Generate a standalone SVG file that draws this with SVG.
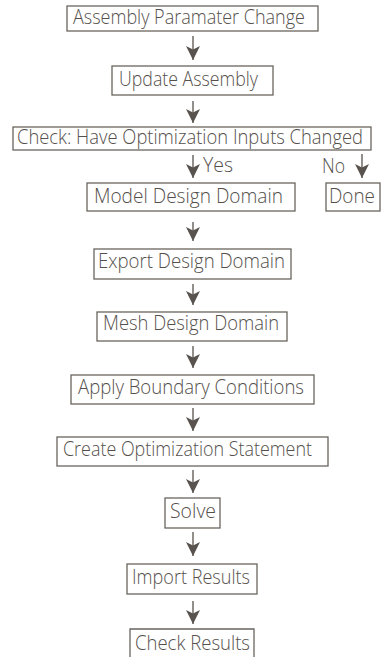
<svg xmlns="http://www.w3.org/2000/svg" width="383" height="657" viewBox="0 0 383 657">
  <style>
    .box { fill: #ffffff; stroke: #6a655f; stroke-width: 1.3; }
    .lbl { font-family: "Open Sans", "Noto Sans", sans-serif; font-weight: 300; font-size: 19.5px; fill: #55504c; }
    .edge { stroke: #58534e; stroke-width: 1.3; fill: none; marker-end: url(#head); }
  </style>
  <defs>
    <marker id="head" viewBox="0 0 14 14" refX="14" refY="7" markerWidth="14" markerHeight="14" markerUnits="userSpaceOnUse" orient="auto">
      <path d="M0,0 L14,7 L0,14 L3.5,7 Z" fill="#58534e"/>
    </marker>
  </defs>
  <rect width="383" height="657" fill="#ffffff"/>

  <g id="n-assembly-change">
    <rect class="box" x="67" y="6" width="251" height="25"/>
    <text class="lbl" x="73" y="24" textLength="232" lengthAdjust="spacingAndGlyphs">Assembly Paramater Change</text>
  </g>
  <g id="n-update-assembly">
    <rect class="box" x="112" y="66" width="161" height="29"/>
    <text class="lbl" x="119" y="86" textLength="139" lengthAdjust="spacingAndGlyphs">Update Assembly</text>
  </g>
  <g id="n-check-inputs">
    <rect class="box" x="13" y="127" width="358" height="23"/>
    <text class="lbl" x="17" y="144" textLength="346" lengthAdjust="spacingAndGlyphs">Check: Have Optimization Inputs Changed</text>
  </g>
  <g id="n-model">
    <rect class="box" x="87" y="183" width="208" height="28"/>
    <text class="lbl" x="94" y="203" textLength="189" lengthAdjust="spacingAndGlyphs">Model Design Domain</text>
  </g>
  <g id="n-done">
    <rect class="box" x="326" y="183" width="54" height="28"/>
    <text class="lbl" x="329" y="203" textLength="46" lengthAdjust="spacingAndGlyphs">Done</text>
  </g>
  <g id="n-export">
    <rect class="box" x="94" y="249" width="197" height="30"/>
    <text class="lbl" x="98" y="268" textLength="187" lengthAdjust="spacingAndGlyphs">Export Design Domain</text>
  </g>
  <g id="n-mesh">
    <rect class="box" x="97" y="312" width="190" height="29"/>
    <text class="lbl" x="103" y="330" textLength="176" lengthAdjust="spacingAndGlyphs">Mesh Design Domain</text>
  </g>
  <g id="n-boundary">
    <rect class="box" x="71" y="375" width="243" height="29"/>
    <text class="lbl" x="78" y="394" textLength="226" lengthAdjust="spacingAndGlyphs">Apply Boundary Conditions</text>
  </g>
  <g id="n-statement">
    <rect class="box" x="57" y="437" width="271" height="29"/>
    <text class="lbl" x="63" y="456" textLength="249" lengthAdjust="spacingAndGlyphs">Create Optimization Statement</text>
  </g>
  <g id="n-solve">
    <rect class="box" x="165" y="498" width="55" height="30"/>
    <text class="lbl" x="170" y="518" textLength="46" lengthAdjust="spacingAndGlyphs">Solve</text>
  </g>
  <g id="n-import">
    <rect class="box" x="127" y="564" width="130" height="30"/>
    <text class="lbl" x="132" y="584" textLength="118" lengthAdjust="spacingAndGlyphs">Import Results</text>
  </g>
  <g id="n-check-results">
    <path class="box" d="M130,660 V629 H254 V660" fill="none"/>
    <text class="lbl" x="135" y="650" textLength="115" lengthAdjust="spacingAndGlyphs">Check Results</text>
  </g>

  <g id="connectors">
    <line class="edge" x1="193" y1="36" x2="193" y2="60"/>
    <line class="edge" x1="193" y1="101" x2="193" y2="123"/>
    <line class="edge" x1="193" y1="155" x2="193" y2="178"/>
    <text class="lbl" x="203" y="172" textLength="30" lengthAdjust="spacingAndGlyphs">Yes</text>
    <line class="edge" x1="362" y1="154" x2="362" y2="178"/>
    <text class="lbl" x="322" y="173" textLength="23" lengthAdjust="spacingAndGlyphs">No</text>
    <line class="edge" x1="193" y1="222" x2="193" y2="241"/>
    <line class="edge" x1="193" y1="284" x2="193" y2="305"/>
    <line class="edge" x1="193" y1="346" x2="193" y2="368"/>
    <line class="edge" x1="193" y1="408" x2="193" y2="431"/>
    <line class="edge" x1="193" y1="470" x2="193" y2="493"/>
    <line class="edge" x1="193" y1="532" x2="193" y2="556"/>
    <line class="edge" x1="193" y1="601" x2="193" y2="624"/>
  </g>
</svg>
